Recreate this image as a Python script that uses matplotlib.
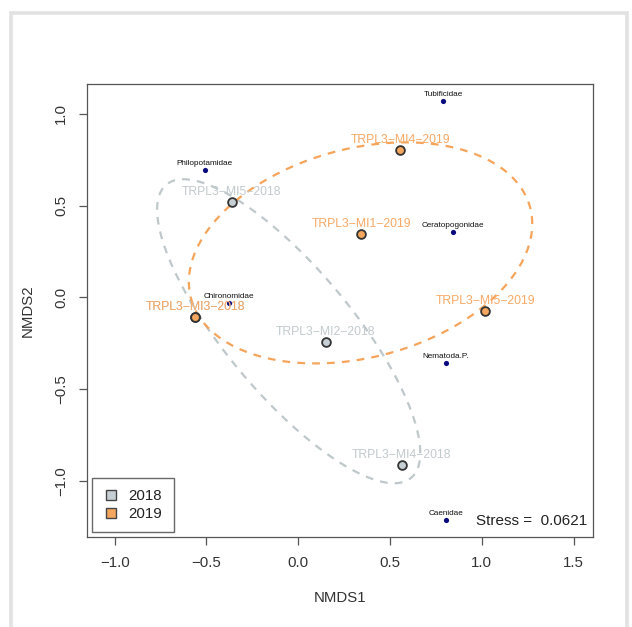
import numpy as np
import matplotlib
matplotlib.use("Agg")
import matplotlib.pyplot as plt
from matplotlib.patches import Rectangle
from matplotlib.lines import Line2D

plt.rcParams['font.family'] = ['Liberation Sans', 'DejaVu Sans']

# ---- data ----
site_names = ["TRPL3−MI5−2018", "TRPL3−MI3−2018", "TRPL3−MI2−2018", "TRPL3−MI4−2018",
              "TRPL3−MI3−2018", "TRPL3−MI4−2019", "TRPL3−MI1−2019", "TRPL3−MI5−2019"]
site_x = [-0.361, -0.561, 0.149, 0.565, -0.561, 0.556, 0.343, 1.020]
site_y = [0.522, -0.108, -0.241, -0.911, -0.108, 0.804, 0.346, -0.072]
site_year = ["2018", "2018", "2018", "2018", "2019", "2019", "2019", "2019"]

species_names = ["Tubificidae", "Philopotamidae", "Ceratopogonidae", "Chironomidae",
                 "Nematoda.P.", "Caenidae"]
species_x = [0.791, -0.510, 0.842, -0.379, 0.803, 0.803]
species_y = [1.069, 0.693, 0.355, -0.028, -0.355, -1.211]

years = ["2018", "2019"]
stress = 0.0621

# ---- style ----
year_line = {"2018": "#BFC8CB", "2019": "#F6A45B"}
year_fill = {"2018": "#C6D0D4", "2019": "#F4A65E"}
year_text = {"2018": "#C2CACD", "2019": "#F7A865"}
ellipse_scale = 1.41

fig = plt.figure(figsize=(6.32, 6.27), dpi=100)
ax = fig.add_axes([87/632, 1-537/627, (593-87)/632, (537-84)/627])
ax.set_xlim(-1.151, 1.606)
ax.set_ylim(-1.306, 1.163)

# ellipses
t = np.linspace(0, 2*np.pi, 300)
for yr in years:
    xs = np.array([x for x, g in zip(site_x, site_year) if g == yr])
    ys = np.array([y for y, g in zip(site_y, site_year) if g == yr])
    c = np.array([xs.mean(), ys.mean()])
    cov = np.cov(np.vstack([xs, ys]), ddof=1)
    L = np.linalg.cholesky(cov)
    pts = c[:, None] + ellipse_scale * L @ np.vstack([np.cos(t), np.sin(t)])
    ax.plot(pts[0], pts[1], color=year_line[yr], lw=1.6, dashes=(3.5, 3.2), zorder=2)

# species
ax.scatter(species_x, species_y, s=14, color="#0A0A80", zorder=4, linewidths=0)
for n, x, y in zip(species_names, species_x, species_y):
    ax.annotate(n, (x, y), xytext=(0, 4.6), textcoords="offset points",
                ha="center", va="center", fontsize=5.9, color="#111111", zorder=5)

# sites
for n, x, y, g in zip(site_names, site_x, site_y, site_year):
    ax.plot([x], [y], "o", ms=6.3, mfc=year_fill[g], mec="#333333", mew=1.3, zorder=6)
    ax.annotate(n, (x, y), xytext=(0, 7.0), textcoords="offset points",
                ha="center", va="center", fontsize=8.8, color=year_text[g], zorder=5)

# stress
ax.text(0.988, 0.036, f"Stress =  {stress}", transform=ax.transAxes,
        ha="right", va="center", fontsize=11, color="#222222")

# legend
handles = [Line2D([], [], ls="none", marker="s", ms=7.5, mfc=year_fill[yr],
                  mec="#444444", mew=1.0) for yr in years]
leg = ax.legend(handles, years, loc="lower left", fontsize=10.8, frameon=True,
                fancybox=False, borderaxespad=0.33, handlelength=1.0,
                handletextpad=0.7, borderpad=0.75, labelspacing=0.22)
leg.get_frame().set_edgecolor("#444444")
leg.get_frame().set_linewidth(1.0)
for txt in leg.get_texts():
    txt.set_color("#222222")

# axes styling
ax.set_xticks([-1.0, -0.5, 0.0, 0.5, 1.0, 1.5])
ax.set_yticks([-1.0, -0.5, 0.0, 0.5, 1.0])
ax.set_xticklabels(["−1.0", "−0.5", "0.0", "0.5", "1.0", "1.5"])
ax.set_yticklabels(["−1.0", "−0.5", "0.0", "0.5", "1.0"], rotation=90, va="center")
ax.tick_params(length=5.5, width=0.9, color="#555555", labelsize=10.8,
               labelcolor="#333333", pad=8)
for sp in ax.spines.values():
    sp.set_color("#555555")
    sp.set_linewidth(0.9)
ax.set_xlabel("NMDS1", fontsize=10.8, color="#333333", labelpad=15)
ax.set_ylabel("NMDS2", fontsize=10.8, color="#333333", labelpad=14)

# outer screenshot frame
fig.add_artist(Rectangle((11/632, -0.1), (627-11)/632, 1.1 - 13/627,
                         transform=fig.transFigure, fill=False,
                         edgecolor="#E2E2E2", lw=2.6))

fig.savefig("out.png", dpi=100)
